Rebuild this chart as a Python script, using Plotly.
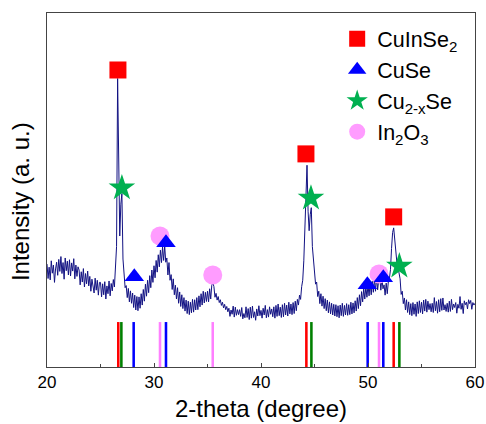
import numpy as np
import plotly.graph_objects as go

# ---- measured pattern: 2-theta grid 20.0 .. 60.0 step 0.1 ----
two_theta = np.round(20 + 0.1 * np.arange(401), 1)
intensity = [
    29.1, 25.0, 28.2, 24.6, 30.0, 26.5, 28.8, 23.9, 27.7, 29.6,   # 20
    25.9, 30.4, 27.0, 31.2, 26.4, 29.5, 24.8, 30.8, 27.2, 29.9,   # 21
    26.0, 30.3, 25.7, 29.4, 27.1, 30.6, 24.9, 28.8, 25.6, 28.3,   # 22
    27.4, 23.2, 26.9, 24.0, 27.8, 22.6, 26.4, 23.5, 27.1, 22.9,   # 23
    25.6, 21.4, 24.8, 22.0, 20.9, 25.1, 21.7, 24.5, 20.3, 23.9,   # 24
    23.9, 19.8, 23.5, 20.4, 24.1, 19.2, 22.9, 20.7, 24.3, 20.1,   # 25
    23.6, 21.5, 24.7, 22.6, 27.5, 34.0, 81.5, 55.0, 37.0, 46.0,   # 26
    49.0, 30.5, 26.0, 22.4, 23.0, 19.6, 22.2, 18.4, 21.5, 18.0,   # 27
    20.9, 16.8, 20.3, 16.1, 19.9, 15.9, 19.8, 16.6, 20.7, 17.5,   # 28
    21.9, 18.6, 23.4, 20.0, 24.5, 21.0, 25.8, 22.4, 27.4, 23.9,   # 29
    28.6, 25.2, 30.1, 26.8, 31.7, 28.3, 33.0, 29.5, 33.9, 30.1,   # 30
    34.2, 29.6, 30.8, 26.0, 29.5, 24.5, 26.1, 21.9, 24.9, 20.4,   # 31
    23.1, 19.2, 22.4, 18.0, 21.2, 17.1, 20.4, 16.5, 19.6, 15.8,   # 32
    18.9, 15.1, 18.6, 14.8, 18.3, 15.3, 19.1, 15.5, 19.0, 16.1,   # 33
    19.6, 16.2, 20.1, 17.0, 20.7, 17.5, 21.4, 18.1, 21.1, 18.5,   # 34
    21.4, 18.4, 22.1, 19.2, 23.1, 23.8, 22.7, 19.7, 20.8, 18.9,   # 35
    19.9, 18.2, 19.0, 17.4, 18.3, 16.7, 17.7, 16.2, 17.1, 15.6,   # 36
    16.6, 14.3, 16.1, 14.9, 17.2, 14.1, 16.9, 14.6, 16.2, 14.8,   # 37
    16.2, 14.3, 16.8, 13.6, 15.1, 13.9, 17.0, 14.0, 16.5, 13.4,   # 38
    16.9, 13.8, 17.2, 14.0, 15.6, 13.2, 16.4, 14.4, 17.3, 14.5,   # 39
    16.0, 13.8, 16.6, 14.7, 17.4, 13.9, 16.2, 14.1, 17.0, 14.9,   # 40
    16.4, 14.2, 17.0, 13.8, 17.4, 14.3, 17.8, 14.5, 16.9, 14.0,   # 41
    17.6, 14.2, 18.0, 14.7, 17.5, 14.4, 18.3, 15.0, 17.8, 14.8,   # 42
    18.2, 15.1, 18.6, 15.9, 19.1, 17.5, 20.3, 19.1, 22.7, 24.5,   # 43
    30.0, 40.0, 51.0, 57.0, 44.0, 38.5, 43.0, 45.0, 34.0, 30.0,   # 44
    28.0, 23.4, 24.0, 19.9, 21.4, 17.9, 20.7, 17.2, 20.0, 16.5,   # 45
    19.3, 15.9, 18.9, 15.3, 18.4, 15.0, 18.0, 14.7, 17.7, 14.4,   # 46
    17.6, 14.2, 17.3, 13.9, 17.5, 14.5, 18.0, 14.3, 17.4, 14.7,   # 47
    17.9, 14.6, 17.6, 14.8, 18.3, 15.0, 18.1, 15.3, 18.7, 15.8,   # 48
    19.6, 16.5, 20.4, 17.3, 21.3, 18.4, 22.1, 19.2, 22.7, 19.7,   # 49
    23.1, 20.1, 23.7, 20.4, 24.2, 21.1, 24.9, 21.4, 25.5, 21.8,   # 50
    24.6, 25.7, 21.7, 25.1, 22.1, 23.2, 20.3, 23.7, 20.7, 24.1,   # 51
    25.0, 27.5, 33.5, 38.0, 39.3, 35.5, 32.0, 29.5, 28.2, 26.5,   # 52
    24.9, 20.5, 21.4, 17.9, 19.5, 16.1, 19.0, 15.4, 18.4, 14.8,   # 53
    17.9, 14.5, 18.2, 14.9, 17.8, 14.3, 18.4, 15.1, 18.7, 15.4,   # 54
    18.3, 15.0, 18.9, 15.8, 19.1, 15.5, 18.6, 16.2, 17.9, 15.6,   # 55
    18.0, 15.4, 19.6, 15.9, 18.5, 15.2, 19.0, 15.6, 19.3, 16.0,   # 56
    19.5, 16.1, 17.6, 15.7, 18.0, 15.5, 18.6, 15.7, 19.1, 16.2,   # 57
    17.8, 16.8, 18.2, 15.2, 17.7, 16.6, 19.9, 16.3, 18.0, 15.1,   # 58
    18.7, 17.6, 18.3, 16.4, 19.0, 17.9, 18.8, 16.3, 18.2, 17.5,   # 59
    18.0,                                                         # 60
]

# ---- reference (standard) line positions ----
cis_ref = [26.66, 44.24, 52.40]
cuse_ref = [28.10, 31.12, 49.97, 51.43]
cu2xse_ref = [26.95, 44.71, 52.93]
in2o3_ref = [30.56, 35.49, 51.03]
ref_height = 12.7

# ---- phase markers on the pattern ----
cis_x = [26.63, 44.20, 52.40]
cis_y = [83.9, 60.2, 42.4]
cuse_x = [28.16, 31.12, 49.94, 51.43]
cuse_y = [25.5, 35.1, 23.2, 25.2]
cu2xse_x = [27.00, 44.67, 52.93]
cu2xse_y = [50.6, 47.7, 28.5]
in2o3_x = [30.56, 35.49, 51.03]
in2o3_y = [37.0, 26.0, 26.3]

RED = "#ff0000"
BLUE = "#0000ff"
STAR_GREEN = "#00b050"
BAR_GREEN = "#008000"
PINK = "#ff9cff"
BAR_PINK = "#ff80ff"
LINE = "#121283"

fig = go.Figure()

fig.add_trace(go.Scatter(x=two_theta, y=intensity, mode="lines",
                         line=dict(color=LINE, width=1), showlegend=False,
                         hoverinfo="skip"))

for pos, col in [(cis_ref, RED), (cu2xse_ref, BAR_GREEN),
                 (cuse_ref, BLUE), (in2o3_ref, BAR_PINK)]:
    fig.add_trace(go.Bar(x=pos, y=[ref_height] * len(pos), width=0.24,
                         marker=dict(color=col, line=dict(width=0)),
                         showlegend=False))

fig.add_trace(go.Scatter(x=in2o3_x, y=in2o3_y, mode="markers",
                         name="In<sub>2</sub>O<sub>3</sub>", legendrank=4,
                         marker=dict(symbol="circle", size=19, color=PINK)))
fig.add_trace(go.Scatter(x=cis_x, y=cis_y, mode="markers",
                         name="CuInSe<sub>2</sub>", legendrank=1,
                         marker=dict(symbol="square", size=17, color=RED)))
fig.add_trace(go.Scatter(x=cu2xse_x, y=cu2xse_y, mode="markers",
                         name="Cu<sub>2-x</sub>Se", legendrank=3,
                         marker=dict(symbol="star", size=20, color=STAR_GREEN)))
fig.add_trace(go.Scatter(x=cuse_x, y=cuse_y, mode="markers",
                         name="CuSe", legendrank=2,
                         marker=dict(symbol="triangle-up", size=17, color=BLUE)))

FONT = "Liberation Sans, Arial, sans-serif"
fig.update_layout(
    width=486, height=424,
    margin=dict(l=47, r=11, t=13, b=57, autoexpand=False),
    paper_bgcolor="white", plot_bgcolor="white",
    font=dict(family=FONT, color="black"),
    barmode="overlay",
    showlegend=True,
    legend=dict(x=0.678, y=0.985, xanchor="left", yanchor="top",
                font=dict(size=21.5, family=FONT), bgcolor="rgba(0,0,0,0)",
                tracegroupgap=0, itemwidth=30),
    xaxis=dict(range=[20, 60], dtick=10, tick0=20, showgrid=False, zeroline=False,
               showline=True, linecolor="#444444", linewidth=1, mirror=True,
               ticks="inside", ticklen=4, tickcolor="#444444",
               minor=dict(dtick=5, ticks="inside", ticklen=3, tickcolor="#444444"),
               tickfont=dict(size=17),
               title=dict(text="2-theta (degree)", font=dict(size=24), standoff=8)),
    yaxis=dict(range=[0, 100], showgrid=False, zeroline=False, showticklabels=False,
               showline=True, linecolor="#444444", linewidth=1, mirror=True,
               ticks=""),
    annotations=[dict(text="Intensity (a. u.)", textangle=-90, showarrow=False,
                      xref="paper", yref="paper", x=-0.063, y=0.466,
                      xanchor="center", yanchor="middle",
                      font=dict(size=24, family=FONT))],
)

fig.write_html("out.html")
